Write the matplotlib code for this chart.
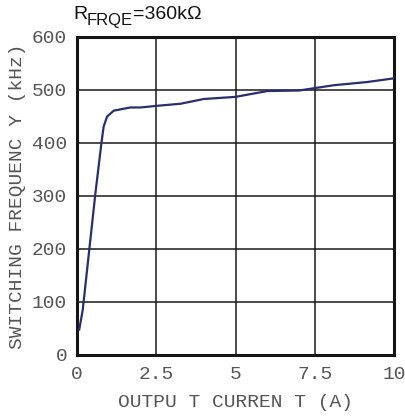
import matplotlib
matplotlib.use('Agg')
import matplotlib.pyplot as plt

# Curve: output current (A) vs switching frequency (kHz)
current_a = [0.07, 0.18, 0.42, 0.58, 0.77, 0.84, 0.95, 1.16, 1.68, 2.0, 2.5,
             3.26, 4.0, 5.0, 6.0, 7.0, 8.1, 9.15, 10.0]
freq_khz = [48, 85, 217, 305, 400, 431, 450, 461, 467, 467, 470,
            474, 483, 487, 498, 499, 509, 515, 522]

x_ticks = [0, 2.5, 5, 7.5, 10]
x_tick_labels = ['0', '2.5', '5', '7.5', '10']
y_ticks = [0, 100, 200, 300, 400, 500, 600]

mono = 'Liberation Mono'
gray = '#555555'

fig = plt.figure(figsize=(4.06, 4.17), dpi=100)
ax = fig.add_axes([0.1897, 0.1487, 0.7807, 0.7626])

ax.plot(current_a, freq_khz, color='#2b2e6e', lw=1.6, zorder=3)

ax.set_xlim(0, 10)
ax.set_ylim(0, 600)
ax.set_xticks(x_ticks)
ax.set_xticklabels(x_tick_labels)
ax.set_yticks(y_ticks)
ax.grid(True, color='#1a1a1a', lw=1.1)
ax.tick_params(length=0, labelsize=14, labelcolor=gray)
ax.tick_params(axis='y', pad=7)
ax.tick_params(axis='x', pad=8)
for lbl in ax.get_xticklabels() + ax.get_yticklabels():
    lbl.set_family(mono)
for sp in ax.spines.values():
    sp.set_linewidth(2.2)
    sp.set_color('#151515')

ax.set_xlabel('OUTPU T CURREN T (A)', family=mono, fontsize=14, color=gray, labelpad=8)
ax.set_ylabel('SWITCHING FREQUENC Y (kHz)', family=mono, fontsize=14, color=gray, labelpad=4)

# title: R with a large subscript, then =360kΩ
fig.canvas.draw()
r = fig.text(73 / 406, 1 - 19 / 417, 'R', family='Liberation Sans', fontsize=14,
             color='#111111', ha='left', va='baseline')
fig.canvas.draw()
x1 = r.get_window_extent().x1
sub = fig.text(x1 / 406, 1 - 25 / 417, 'FRQE', family='Liberation Sans', fontsize=12,
               color='#111111', ha='left', va='baseline')
fig.canvas.draw()
x2 = sub.get_window_extent().x1
fig.text(x2 / 406, 1 - 19 / 417, '=360k\u03a9', family='Liberation Sans', fontsize=14,
         color='#111111', ha='left', va='baseline')

fig.savefig('out.png', dpi=100)
